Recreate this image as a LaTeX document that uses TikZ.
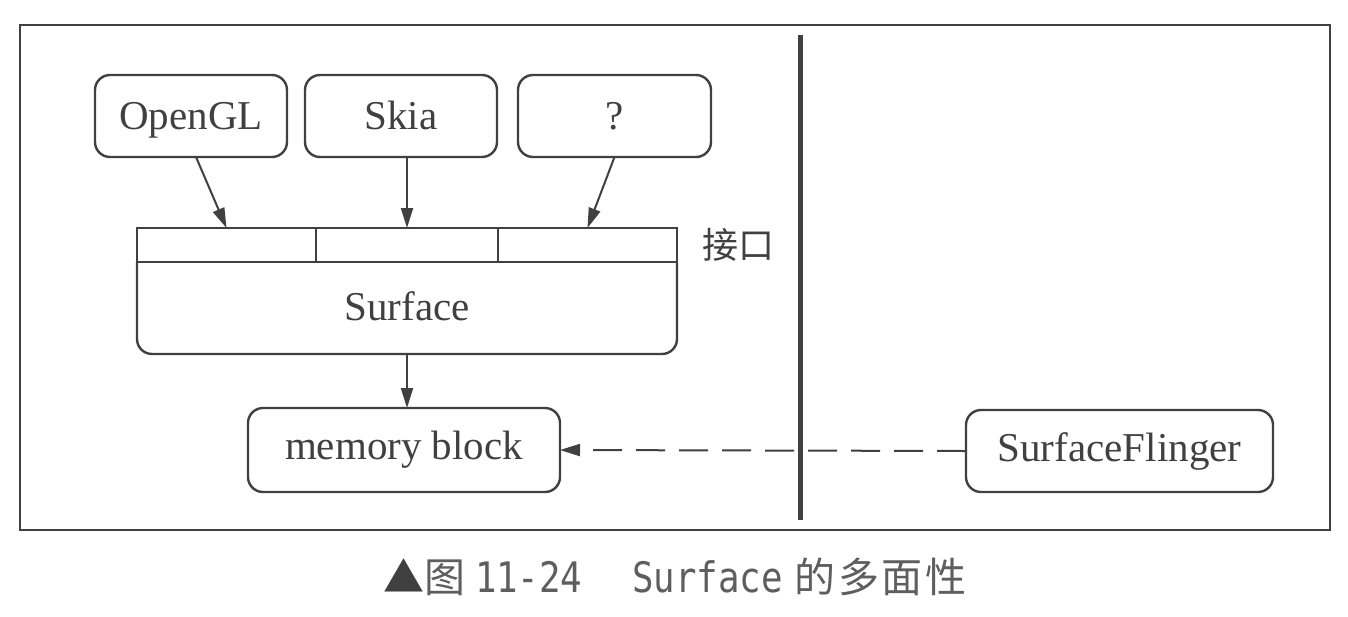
\documentclass[tikz,border=0pt]{standalone}
\usepackage{fontspec}
\setmainfont{Liberation Serif}
\newfontfamily\cjk{Noto Sans CJK SC}
\newfontfamily\cjkcap[LetterSpace=6]{Noto Sans CJK SC}
\newfontfamily\capmono[FakeStretch=0.85]{DejaVu Sans Mono}
\usetikzlibrary{arrows.meta}
\definecolor{ink}{HTML}{404040}
\definecolor{capink}{HTML}{5E5E5E}
\begin{document}
\begin{tikzpicture}[x=1pt,y=-1pt,
  every node/.style={inner sep=0pt, outer sep=0pt, text=ink},
  lbl/.style={font=\fontsize{41}{48}\selectfont},
  rbox/.style={draw=ink, line width=2.4pt, rounded corners=15pt, lbl},
  topbox/.style={rbox, minimum height=82pt, text height=27pt, text depth=0pt},
  cell/.style={draw=ink, line width=2.2pt, minimum height=34pt},
  arr/.style={draw=ink, line width=2pt, -{Triangle[length=20pt,width=12pt]}},
  darr/.style={draw=ink, line width=2pt, dash pattern=on 29pt off 14pt, -{Triangle[length=20pt,width=12pt]}}
]
\useasboundingbox (0,0) rectangle (1348,616);
\fill[white] (0,0) rectangle (1348,616);
% outer frame
\draw[ink, line width=2pt] (20,25) rectangle (1330,530);
% thick divider
\draw[ink, line width=5pt] (800,35) -- (800,520);

% top boxes
\node[topbox, minimum width=192pt] (opengl) at (191,116) {OpenGL};
\node[topbox, minimum width=192pt] (skia) at (401,116) {Skia};
\node[topbox, minimum width=193pt] (q) at (614.5,116) {?};

% interface cells
\node[cell, minimum width=179pt] (if1) at (226.5,245) {};
\node[cell, minimum width=182pt] (if2) at (407,245) {};
\node[cell, minimum width=179pt] (if3) at (587.5,245) {};
\node[font=\cjk\fontsize{36}{40}\selectfont] (iflabel) at (738,245) {接口};

% surface body
\node[lbl, minimum width=540pt, minimum height=92pt] (surface) at (407,308) {\raisebox{3pt}{Surface}};
\draw[ink, line width=2.4pt, rounded corners=15pt] (surface.north west) -- (surface.south west) -- (surface.south east) -- (surface.north east);

% memory block and SurfaceFlinger
\node[rbox, minimum width=312pt, minimum height=84pt] (mem) at (404,450) {memory block};
\node[rbox, minimum width=307pt, minimum height=82pt] (sf) at (1119.5,451) {SurfaceFlinger};

% arrows
\draw[arr] ([xshift=5pt]opengl.south) -- (if1.north);
\draw[arr] (if2.north |- skia.south) -- (if2.north);
\draw[arr] (q.south) -- (if3.north);
\draw[arr] (surface.south) -- (surface.south |- mem.north);
\draw[darr] (sf.west) -- (mem.east);

% caption
\node[text=capink, anchor=base west] (caption) at (383,592) {{\cjk\fontsize{41}{48}\selectfont\textcolor{ink}{▲}图}\hspace{10pt}{\capmono\fontsize{42}{48}\selectfont 11-24}\hspace{50pt}{\capmono\fontsize{42}{48}\selectfont Surface}\hspace{12pt}{\cjkcap\fontsize{41}{48}\selectfont 的多面性}};
\end{tikzpicture}
\end{document}
